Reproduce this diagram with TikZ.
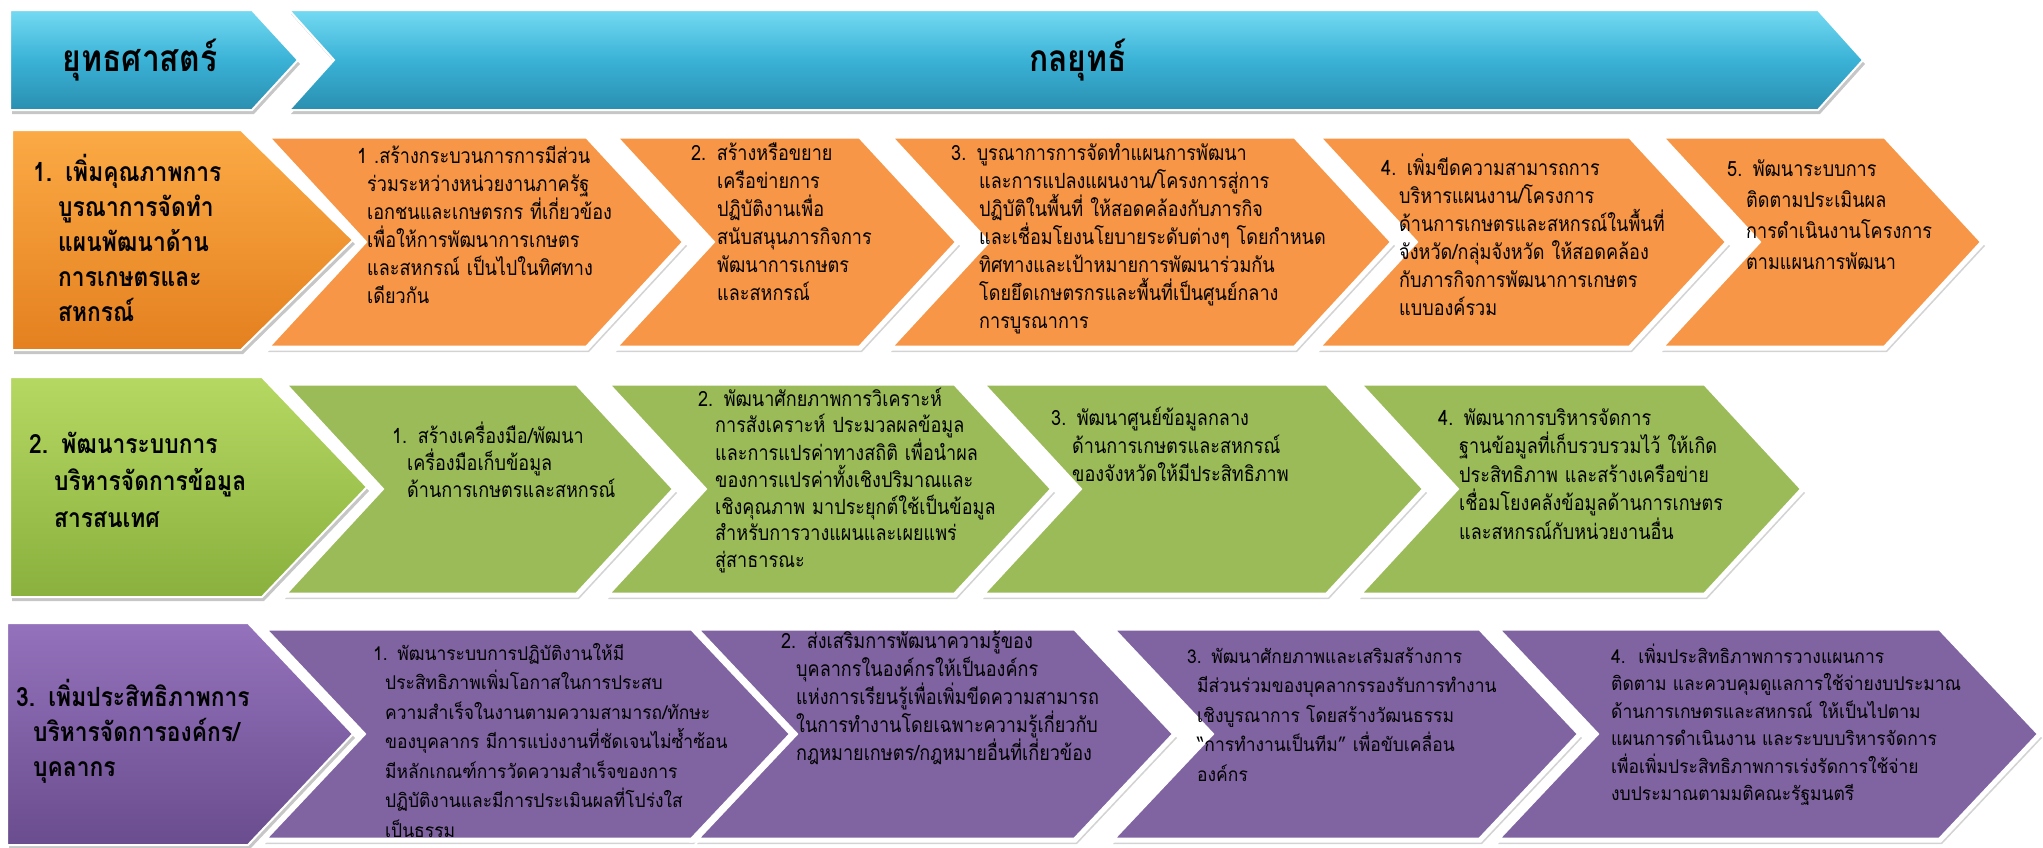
\documentclass[tikz,border=0pt]{standalone}
\usepackage{fontspec}
\newfontfamily\thaiwide[Script=Thai,FakeStretch=0.92]{Loma}
\newfontfamily\thaislim[Script=Thai,FakeStretch=0.86]{Loma}
\usetikzlibrary{shadows}

\definecolor{skyA}{HTML}{74DAF2}
\definecolor{skyB}{HTML}{3AB2D6}
\definecolor{skyC}{HTML}{2A8FB0}
\definecolor{orangeA}{HTML}{FBAA45}
\definecolor{orangeB}{HTML}{E4801F}
\definecolor{orangechev}{HTML}{F79646}
\definecolor{greenA}{HTML}{B5D862}
\definecolor{greenB}{HTML}{8AB03D}
\definecolor{greenchev}{HTML}{9BBB59}
\definecolor{purpleA}{HTML}{9472BC}
\definecolor{purpleB}{HTML}{6A4D8E}
\definecolor{purplechev}{HTML}{8064A2}

% chevron: style, left, right, top, bottom, depth
\newcommand{\chevbox}[6]{%
  \pgfmathsetmacro\ym{(#4+#5)/2}
  \pgfmathsetmacro\xt{#3+#6}
  \pgfmathsetmacro\xn{#2+#6}
  \path[#1] (#2,#4) -- (#3,#4) -- (\xt,\ym) -- (#3,#5) -- (#2,#5) -- (\xn,\ym) -- cycle;}
% first box of a row, no notch
\newcommand{\pentbox}[6]{%
  \pgfmathsetmacro\ym{(#4+#5)/2}
  \pgfmathsetmacro\xt{#3+#6}
  \path[#1] (#2,#4) -- (#3,#4) -- (\xt,\ym) -- (#3,#5) -- (#2,#5) -- cycle;}

\tikzset{
  chev/.style={draw=white, line width=5pt, drop shadow={shadow xshift=2pt, shadow yshift=-4pt, opacity=0.35}},
  lead/.style={draw=white, line width=2pt, drop shadow={shadow xshift=2pt, shadow yshift=-4pt, opacity=0.45}},
  body/.style={anchor=base west, inner sep=0pt, text width=480pt, align=left, font=\thaislim\fontsize{21}{#1}\selectfont},
  body/.default=28,
  wide/.style={body=#1, font=\thaiwide\fontsize{19}{#1}\selectfont},
  wide/.default=29,
  head/.style={body=#1, font=\thaislim\bfseries\fontsize{26.5}{#1}\selectfont},
  head/.default=35,
  hang/.style={execute at begin node={\leftskip=#1pt\hspace*{-#1pt}}, execute at end node={\par}},
  title/.style={inner sep=0pt, font=\thaislim\bfseries\fontsize{37}{42}\selectfont}
}

\begin{document}
\begin{tikzpicture}[x=1pt, y=-1pt]
\useasboundingbox (0,0) rectangle (2043,847);

% header
\pentbox{lead, top color=skyA, bottom color=skyC, middle color=skyB}{10}{252}{10}{110}{46}
\chevbox{lead, top color=skyA, bottom color=skyC, middle color=skyB}{289}{1818}{10}{110}{45}
\node[title] (strat) at (140,60) {ยุทธศาสตร์};
\node[title] (tact) at (1078,60) {กลยุทธ์};

% row 1
\pentbox{lead, top color=orangeA, bottom color=orangeB}{12}{241}{130}{350}{112}
\foreach \l/\r in {266/587, 614/860, 889/1295, 1317/1630, 1660/1885} {
  \chevbox{chev, fill=orangechev}{\l}{\r}{136}{348}{98}
}
\node[head, hang=25] (s1) at (33,181) {1. เพิ่มคุณภาพการ\\บูรณาการจัดทำ\\แผนพัฒนาด้าน\\การเกษตรและ\\สหกรณ์};
\node[body, hang=10] (s1a) at (357,163) {1 .สร้างกระบวนการการมีส่วน\\ร่วมระหว่างหน่วยงานภาครัฐ\\เอกชนและเกษตรกร ที่เกี่ยวข้อง\\เพื่อให้การพัฒนาการเกษตร\\และสหกรณ์ เป็นไปในทิศทาง\\เดียวกัน};
\node[body, hang=26] (s1b) at (691,160) {2. สร้างหรือขยาย\\เครือข่ายการ\\ปฏิบัติงานเพื่อ\\สนับสนุนภารกิจการ\\พัฒนาการเกษตร\\และสหกรณ์};
\node[body, hang=28] (s1c) at (951,160) {3. บูรณาการการจัดทำแผนการพัฒนา\\และการแปลงแผนงาน/โครงการสู่การ\\ปฏิบัติในพื้นที่ ให้สอดคล้องกับภารกิจ\\และเชื่อมโยงนโยบายระดับต่างๆ โดยกำหนด\\ทิศทางและเป้าหมายการพัฒนาร่วมกัน\\โดยยึดเกษตรกรและพื้นที่เป็นศูนย์กลาง\\การบูรณาการ};
\node[body, hang=18] (s1d) at (1381,175) {4. เพิ่มขีดความสามารถการ\\บริหารแผนงาน/โครงการ\\ด้านการเกษตรและสหกรณ์ในพื้นที่\\จังหวัด/กลุ่มจังหวัด ให้สอดคล้อง\\กับภารกิจการพัฒนาการเกษตร\\แบบองค์รวม};
\node[body=31, hang=19] (s1e) at (1727,176) {5. พัฒนาระบบการ\\ติดตามประเมินผล\\การดำเนินงานโครงการ\\ตามแผนการพัฒนา};

% row 2
\pentbox{lead, top color=greenA, bottom color=greenB}{10}{262}{377}{597}{105}
\foreach \l/\r in {283/577, 606/955, 981/1327, 1358/1705} {
  \chevbox{chev, fill=greenchev}{\l}{\r}{383}{595}{98}
}
\node[head=37, hang=25] (s2) at (29,453) {2. พัฒนาระบบการ\\บริหารจัดการข้อมูล\\สารสนเทศ};
\node[body=27, hang=15] (s2a) at (392,443) {1. สร้างเครื่องมือ/พัฒนา\\เครื่องมือเก็บข้อมูล\\ด้านการเกษตรและสหกรณ์};
\node[body=26.7, hang=17] (s2b) at (698,406) {2. พัฒนาศักยภาพการวิเคราะห์\\การสังเคราะห์ ประมวลผลข้อมูล\\และการแปรค่าทางสถิติ เพื่อนำผล\\ของการแปรค่าทั้งเชิงปริมาณและ\\เชิงคุณภาพ มาประยุกต์ใช้เป็นข้อมูล\\สำหรับการวางแผนและเผยแพร่\\สู่สาธารณะ};
\node[body, hang=21] (s2c) at (1051,425) {3. พัฒนาศูนย์ข้อมูลกลาง\\ด้านการเกษตรและสหกรณ์\\ของจังหวัดให้มีประสิทธิภาพ};
\node[body=28.5, hang=21] (s2d) at (1438,425) {4. พัฒนาการบริหารจัดการ\\ฐานข้อมูลที่เก็บรวบรวมไว้ ให้เกิด\\ประสิทธิภาพ และสร้างเครือข่าย\\เชื่อมโยงคลังข้อมูลด้านการเกษตร\\และสหกรณ์กับหน่วยงานอื่น};

% row 3
\pentbox{lead, top color=purpleA, bottom color=purpleB}{7}{248}{623}{845}{105}
\foreach \l/\r in {263/692, 695/1075, 1111/1480, 1496/1940} {
  \chevbox{chev, fill=purplechev}{\l}{\r}{628}{840}{100}
}
\node[head, hang=17] (s3) at (16,706) {3. เพิ่มประสิทธิภาพการ\\บริหารจัดการองค์กร/\\บุคลากร};
\node[wide=29.5, hang=12] (s3a) at (373,660) {1. พัฒนาระบบการปฏิบัติงานให้มี\\ประสิทธิภาพเพิ่มโอกาสในการประสบ\\ความสำเร็จในงานตามความสามารถ/ทักษะ\\ของบุคลากร มีการแบ่งงานที่ชัดเจนไม่ซ้ำซ้อน\\มีหลักเกณฑ์การวัดความสำเร็จของการ\\ปฏิบัติงานและมีการประเมินผลที่โปร่งใส\\เป็นธรรม};
\node[body, hang=15] (s3b) at (781,648) {2. ส่งเสริมการพัฒนาความรู้ของ\\บุคลากรในองค์กรให้เป็นองค์กร\\แห่งการเรียนรู้เพื่อเพิ่มขีดความสามารถ\\ในการทำงานโดยเฉพาะความรู้เกี่ยวกับ\\กฎหมายเกษตร/กฎหมายอื่นที่เกี่ยวข้อง};
\node[wide=29.5, hang=10] (s3c) at (1187,663) {3. พัฒนาศักยภาพและเสริมสร้างการ\\มีส่วนร่วมของบุคลากรรองรับการทำงาน\\เชิงบูรณาการ โดยสร้างวัฒนธรรม\\“การทำงานเป็นทีม” เพื่อขับเคลื่อน\\องค์กร};
\node[wide=27.5] (s3d) at (1611,663) {4.\ \ เพิ่มประสิทธิภาพการวางแผนการ\\ติดตาม และควบคุมดูแลการใช้จ่ายงบประมาณ\\ด้านการเกษตรและสหกรณ์ ให้เป็นไปตาม\\แผนการดำเนินงาน และระบบบริหารจัดการ\\เพื่อเพิ่มประสิทธิภาพการเร่งรัดการใช้จ่าย\\งบประมาณตามมติคณะรัฐมนตรี};
\end{tikzpicture}
\end{document}
